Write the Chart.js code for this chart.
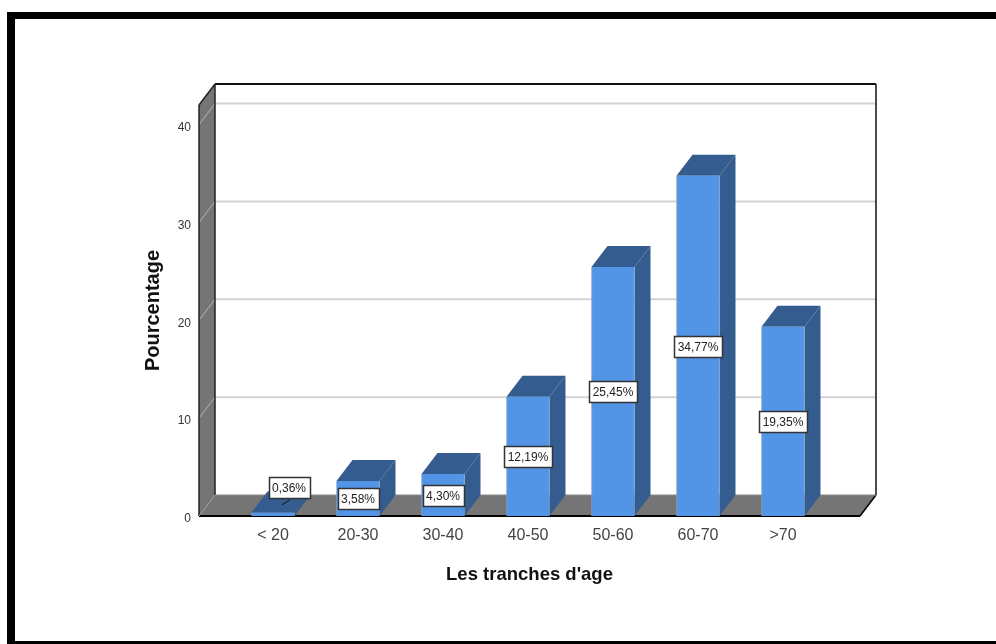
<!DOCTYPE html>
<html lang="fr">
<head>
<meta charset="utf-8">
<title>Les tranches d'age</title>
<style>
  html, body { margin: 0; padding: 0; background: #fff; }
  #wrap { position: relative; width: 996px; height: 644px; }
  canvas { display: block; }
</style>
<script src="https://cdn.jsdelivr.net/npm/chart.js@4/dist/chart.umd.min.js"></script>
</head>
<body>
<div id="wrap"><canvas id="chart" width="996" height="644"></canvas></div>
<script>
const categories = ['< 20', '20-30', '30-40', '40-50', '50-60', '60-70', '>70'];
const percentages = [0.36, 3.58, 4.30, 12.19, 25.45, 34.77, 19.35];
const yTicks = [0, 10, 20, 30, 40];

const FONT = '"Liberation Sans", Arial, sans-serif';
const DEPTH_X = 16;
const DEPTH_Y = -21;
const FRONT = '#5294e6';
const SIDE = '#345c8f';
const WALL = '#757575';
const GRID = '#d2d2d2';

function fillPoly(ctx, pts, color) {
  ctx.beginPath();
  pts.forEach(([x, y], i) => (i ? ctx.lineTo(x, y) : ctx.moveTo(x, y)));
  ctx.closePath();
  ctx.fillStyle = color;
  ctx.fill();
}

function strokeLine(ctx, x1, y1, x2, y2, color, width) {
  ctx.beginPath();
  ctx.moveTo(x1, y1);
  ctx.lineTo(x2, y2);
  ctx.strokeStyle = color;
  ctx.lineWidth = width;
  ctx.stroke();
}

// Page frame, back wall, side wall, floor, and the depth faces of each bar.
const depthBox = {
  id: 'depthBox',
  beforeDatasetsDraw(chart) {
    const { ctx, chartArea: a, scales: { y } } = chart;
    const dx = DEPTH_X, dy = DEPTH_Y;
    ctx.save();

    ctx.fillStyle = '#000';
    ctx.fillRect(7, 12, 989, 7);
    ctx.fillRect(7, 12, 8, 632);
    ctx.fillRect(7, 641, 989, 3);

    fillPoly(ctx, [[a.left, a.bottom], [a.left, a.top], [a.left + dx, a.top + dy], [a.left + dx, a.bottom + dy]], WALL);
    fillPoly(ctx, [[a.left, a.bottom], [a.right, a.bottom], [a.right + dx, a.bottom + dy], [a.left + dx, a.bottom + dy]], WALL);

    yTicks.filter(v => v > 0).forEach(v => {
      const py = y.getPixelForValue(v);
      strokeLine(ctx, a.left, py, a.left + dx, py + dy, '#b5b5b5', 1);
      strokeLine(ctx, a.left + dx, py + dy, a.right + dx, py + dy, GRID, 2);
    });

    // Box outline
    strokeLine(ctx, a.left + dx, a.top + dy, a.right + dx, a.top + dy, '#111', 2);
    strokeLine(ctx, a.right + dx, a.top + dy, a.right + dx, a.bottom + dy, '#111', 1.5);
    strokeLine(ctx, a.left + dx, a.top + dy, a.left + dx, a.bottom + dy, '#222', 1.5);
    strokeLine(ctx, a.left, a.top, a.left + dx, a.top + dy, '#222', 1.5);
    strokeLine(ctx, a.left, a.top, a.left, a.bottom, '#222', 1.5);
    strokeLine(ctx, a.left, a.bottom, a.right, a.bottom, '#000', 2);
    strokeLine(ctx, a.right, a.bottom, a.right + dx, a.bottom + dy, '#000', 1.5);
    strokeLine(ctx, a.left, a.bottom, a.left + dx, a.bottom + dy, '#9a9a9a', 1);
    strokeLine(ctx, a.left + dx, a.bottom + dy, a.right + dx, a.bottom + dy, '#8a8a8a', 1);

    chart.getDatasetMeta(0).data.forEach(bar => {
      const l = bar.x - bar.width / 2, r = bar.x + bar.width / 2;
      fillPoly(ctx, [[l, bar.y], [r, bar.y], [r + dx, bar.y + dy], [l + dx, bar.y + dy]], SIDE);
      fillPoly(ctx, [[r, bar.y], [r + dx, bar.y + dy], [r + dx, bar.base + dy], [r, bar.base]], SIDE);
    });
    ctx.restore();
  },
  // Value boxes sit at the middle of each bar; very short bars get theirs lifted with a leader.
  afterDatasetsDraw(chart) {
    const { ctx, scales: { y } } = chart;
    ctx.save();
    ctx.font = '12px ' + FONT;
    ctx.textAlign = 'center';
    ctx.textBaseline = 'middle';
    chart.getDatasetMeta(0).data.forEach((bar, i) => {
      const value = percentages[i];
      const text = value.toFixed(2).replace('.', ',') + '%';
      let cx = bar.x;
      let cy = y.getPixelForValue(value / 2) + 0.5;
      if (bar.base - bar.y < 10) {
        cx += DEPTH_X;
        cy -= 27;
        strokeLine(ctx, bar.x + 9, cy + 17, bar.x + 17, cy + 12, '#111', 1);
      }
      const w = Math.round(ctx.measureText(text).width) + 7;
      const h = 21;
      const bx = Math.round(cx - w / 2), by = Math.round(cy - h / 2);
      ctx.fillStyle = '#fff';
      ctx.fillRect(bx, by, w, h);
      ctx.strokeStyle = '#333';
      ctx.lineWidth = 1.5;
      ctx.strokeRect(bx + 0.5, by + 0.5, w, h);
      ctx.fillStyle = '#222';
      ctx.fillText(text, cx, cy + 1);
    });
    ctx.restore();
  }
};

new Chart(document.getElementById('chart'), {
  type: 'bar',
  data: {
    datasets: [{
      label: 'Pourcentage',
      data: percentages.map((v, i) => ({ x: i, y: v })),
      backgroundColor: FRONT,
      borderColor: '#7f9fc8',
      borderWidth: { left: 1, right: 1 },
      barThickness: 43,
      parsing: false
    }]
  },
  options: {
    responsive: false,
    animation: false,
    layout: { padding: { top: 105, right: 136, left: 0, bottom: 0 } },
    plugins: { legend: { display: false }, tooltip: { enabled: false } },
    scales: {
      x: {
        type: 'linear',
        offset: false,
        min: -0.8706,
        max: 6.9059,
        grid: { display: false },
        border: { display: false },
        afterBuildTicks(scale) { scale.ticks = categories.map((_, i) => ({ value: i })); },
        afterFit(scale) { scale.height = 128; },
        ticks: {
          autoSkip: false,
          maxRotation: 0,
          padding: 2,
          color: '#444',
          font: { family: FONT, size: 16 },
          callback: v => categories[v]
        },
        title: {
          display: true,
          text: "Les tranches d'age",
          color: '#111',
          font: { family: FONT, size: 18.5, weight: 'bold' },
          padding: { top: 0, bottom: 58 }
        }
      },
      y: {
        min: 0,
        max: 42,
        grid: { display: false },
        border: { display: false },
        afterBuildTicks(scale) { scale.ticks = yTicks.map(v => ({ value: v })); },
        afterFit(scale) { scale.width = 199; },
        ticks: {
          padding: 0,
          labelOffset: 3,
          color: '#333',
          font: { family: FONT, size: 12 }
        },
        title: {
          display: true,
          text: 'Pourcentage',
          color: '#111',
          font: { family: FONT, size: 20, weight: 'bold' },
          padding: { top: 141, bottom: 0 }
        }
      }
    }
  },
  plugins: [depthBox]
});
</script>
</body>
</html>
